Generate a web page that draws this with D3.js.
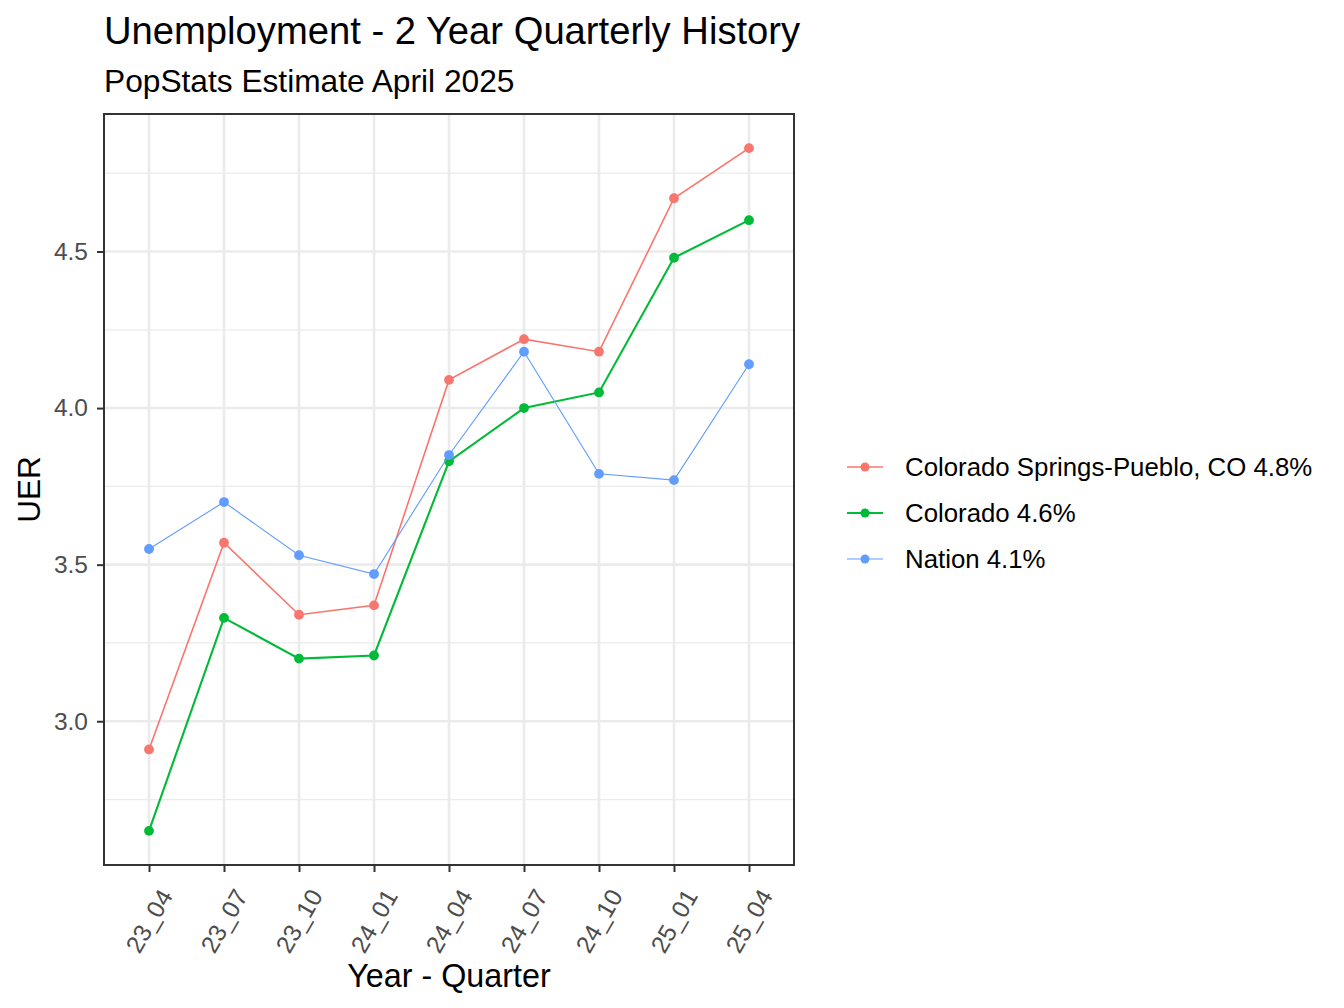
<!DOCTYPE html>
<html>
<head>
<meta charset="utf-8">
<script src="https://cdn.jsdelivr.net/npm/d3@7"></script>
<style>
  body { margin: 0; background: #fff; }
  text { font-family: "Liberation Sans", Arial, sans-serif; }
</style>
</head>
<body>
<svg id="chart" width="1344" height="1008"></svg>
<script>
const quarters = ['23_04', '23_07', '23_10', '24_01', '24_04', '24_07', '24_10', '25_01', '25_04'];
const springs = [2.91, 3.57, 3.34, 3.37, 4.09, 4.22, 4.18, 4.67, 4.83];
const colorado = [2.65, 3.33, 3.20, 3.21, 3.83, 4.00, 4.05, 4.48, 4.60];
const nation = [3.55, 3.70, 3.53, 3.47, 3.85, 4.18, 3.79, 3.77, 4.14];
const seriesNames = ['Colorado Springs-Pueblo, CO 4.8%', 'Colorado 4.6%', 'Nation 4.1%'];
const seriesColors = ['#F8766D', '#00BA38', '#619CFF'];
const lineWidths = [1.6, 2.1, 1.1];
const yTicks = [3.0, 3.5, 4.0, 4.5];
const yMinor = [2.75, 3.25, 3.75, 4.25, 4.75];

const series = [springs, colorado, nation].map((values, i) => ({
  name: seriesNames[i],
  color: seriesColors[i],
  width: lineWidths[i],
  values: values.map((v, j) => ({ q: quarters[j], v }))
}));

const panel = { left: 104, right: 794, top: 114, bottom: 865 };
const svg = d3.select('#chart');

const x = d3.scalePoint()
  .domain(quarters)
  .range([panel.left, panel.right])
  .padding(0.6);

const allValues = springs.concat(colorado, nation);
const [lo, hi] = d3.extent(allValues);
const pad = (hi - lo) * 0.05;
const y = d3.scaleLinear()
  .domain([lo - pad, hi + pad])
  .range([panel.bottom, panel.top]);

// grid
const grid = svg.append('g');
grid.selectAll('.minor')
  .data(yMinor)
  .join('line')
  .attr('x1', panel.left).attr('x2', panel.right)
  .attr('y1', d => y(d)).attr('y2', d => y(d))
  .attr('stroke', '#EBEBEB').attr('stroke-width', 1.3);
grid.selectAll('.majory')
  .data(yTicks)
  .join('line')
  .attr('x1', panel.left).attr('x2', panel.right)
  .attr('y1', d => y(d)).attr('y2', d => y(d))
  .attr('stroke', '#EBEBEB').attr('stroke-width', 2.6);
grid.selectAll('.majorx')
  .data(quarters)
  .join('line')
  .attr('x1', d => x(d)).attr('x2', d => x(d))
  .attr('y1', panel.top).attr('y2', panel.bottom)
  .attr('stroke', '#EBEBEB').attr('stroke-width', 2.6);

// lines + points
const line = d3.line().x(d => x(d.q)).y(d => y(d.v));
const sg = svg.append('g').selectAll('g')
  .data(series)
  .join('g');
sg.append('path')
  .attr('d', d => line(d.values))
  .attr('fill', 'none')
  .attr('stroke', d => d.color)
  .attr('stroke-width', d => d.width);
sg.selectAll('circle')
  .data(d => d.values.map(p => ({ ...p, color: d.color })))
  .join('circle')
  .attr('cx', d => x(d.q))
  .attr('cy', d => y(d.v))
  .attr('r', 4.9)
  .attr('fill', d => d.color);

// panel border
svg.append('rect')
  .attr('x', panel.left).attr('y', panel.top)
  .attr('width', panel.right - panel.left)
  .attr('height', panel.bottom - panel.top)
  .attr('fill', 'none')
  .attr('stroke', '#333333')
  .attr('stroke-width', 2);

// y axis
const yAxis = svg.append('g')
  .attr('transform', `translate(${panel.left},0)`)
  .call(d3.axisLeft(y).tickValues(yTicks).tickFormat(d3.format('.1f')).tickSize(7).tickPadding(9));
yAxis.select('.domain').remove();
yAxis.selectAll('line').attr('stroke', '#333333').attr('stroke-width', 2);
yAxis.selectAll('text')
  .attr('fill', '#4D4D4D')
  .style('font-size', '24.5px')
  .style('font-family', '"Liberation Sans", Arial, sans-serif');

// x axis
const xAxis = svg.append('g')
  .attr('transform', `translate(0,${panel.bottom})`)
  .call(d3.axisBottom(x).tickSize(7).tickFormat(''));
xAxis.select('.domain').remove();
xAxis.selectAll('line').attr('stroke', '#333333').attr('stroke-width', 2);
svg.append('g').selectAll('text')
  .data(quarters)
  .join('text')
  .attr('transform', d => `translate(${x(d)},${panel.bottom + 56}) rotate(-60)`)
  .attr('text-anchor', 'middle')
  .attr('dy', '0.35em')
  .attr('fill', '#4D4D4D')
  .style('font-size', '24.5px')
  .text(d => d);

// titles
svg.append('text')
  .attr('x', panel.left).attr('y', 44)
  .style('font-size', '38.2px')
  .attr('fill', '#000')
  .text('Unemployment - 2 Year Quarterly History');
svg.append('text')
  .attr('x', panel.left).attr('y', 92)
  .style('font-size', '31.7px')
  .attr('fill', '#000')
  .text('PopStats Estimate April 2025');
svg.append('text')
  .attr('x', (panel.left + panel.right) / 2).attr('y', 987)
  .attr('text-anchor', 'middle')
  .style('font-size', '32.3px')
  .text('Year - Quarter');
svg.append('text')
  .attr('transform', `translate(40,${(panel.top + panel.bottom) / 2}) rotate(-90)`)
  .attr('text-anchor', 'middle')
  .style('font-size', '31.5px')
  .text('UER');

// legend
const legend = svg.append('g').selectAll('g')
  .data(series)
  .join('g')
  .attr('transform', (d, i) => `translate(847,${467 + i * 46})`);
legend.append('line')
  .attr('x1', 0).attr('x2', 36)
  .attr('stroke', d => d.color)
  .attr('stroke-width', d => d.width);
legend.append('circle')
  .attr('cx', 18).attr('r', 4.5)
  .attr('fill', d => d.color);
legend.append('text')
  .attr('x', 58)
  .attr('dy', '0.36em')
  .style('font-size', '25.8px')
  .text(d => d.name);
</script>
</body>
</html>
